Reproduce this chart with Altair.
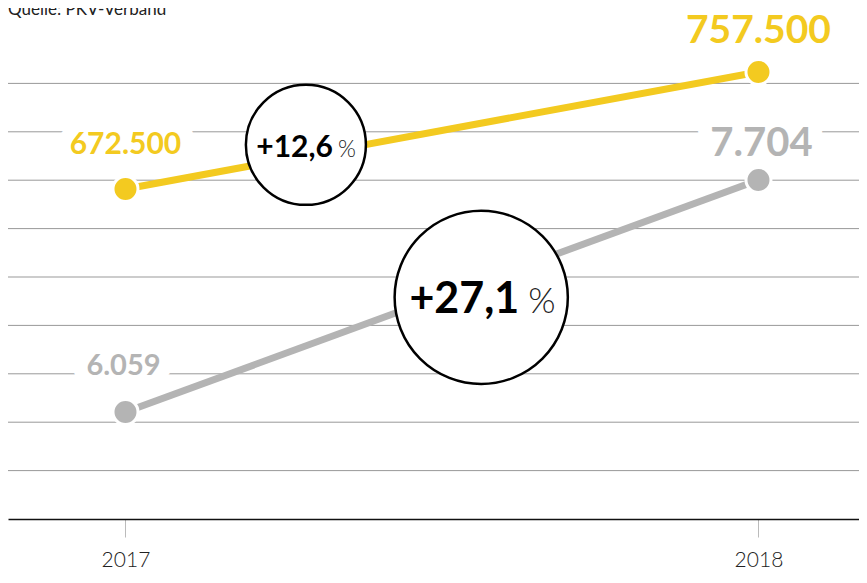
import altair as alt
import pandas as pd

# ---- data -------------------------------------------------------------
years = [2017, 2018]
yellow_values = [672500, 757500]
gray_values = [6059, 7704]
grid_levels = [1, 2, 3, 4, 5, 6, 7, 8, 9]
source_text = "Quelle: PKV-Verband"

YELLOW = "#F3CA20"
GRAY = "#B4B4B4"
FONT = "Lato"


def de_num(v):
    return f"{v:,}".replace(",", ".")


def pct(vals):
    p = (vals[1] / vals[0] - 1) * 100
    return "+" + f"{p:.1f}".replace(".", ",")


yellow_df = pd.DataFrame({"year": years, "value": yellow_values,
                          "label": [de_num(v) for v in yellow_values]})
gray_df = pd.DataFrame({"year": years, "value": gray_values,
                        "label": [de_num(v) for v in gray_values]})
grid_df = pd.DataFrame({"u": grid_levels})

# ---- scales -----------------------------------------------------------
x_scale = alt.Scale(domain=[2016.8144, 2018.1588], nice=False, zero=False)
y_yel = alt.Scale(domain=[432827, 784357], nice=False, zero=False)
y_gry = alt.Scale(domain=[5300.2, 8732.2], nice=False, zero=False)
y_grid = alt.Scale(domain=[0, 10], nice=False, zero=False)

x_axis = alt.Axis(values=years, format="d", title=None, grid=False,
                  domainColor="#111111", domainWidth=1.5,
                  tickColor="#bbbbbb", tickSize=18, tickWidth=1,
                  labelFont=FONT, labelFontSize=21, labelFontWeight=300,
                  labelColor="#222222", labelPadding=12)
xenc = alt.X("year:Q", scale=x_scale, axis=x_axis)

# ---- layers -----------------------------------------------------------
grid = alt.Chart(grid_df).mark_rule(color="#999999", strokeWidth=1).encode(
    y=alt.Y("u:Q", scale=y_grid, axis=None)
)


def label_layer(df, scale, color, year, size, dy, dx, halo):
    base = alt.Chart(df).transform_filter(alt.datum.year == year)
    props = dict(font=FONT, fontWeight="bold", fontSize=size, dy=dy, dx=dx,
                 align="center", baseline="alphabetic")
    if halo:
        m = base.mark_text(color="white", stroke="white", strokeWidth=28,
                           strokeJoin="round", **props)
    else:
        m = base.mark_text(color=color, **props)
    return m.encode(x=xenc, y=alt.Y("value:Q", scale=scale, axis=None),
                    text="label:N")


# (data, scale, colour, year, font size, dy, dx, needs white halo)
label_specs = [
    (yellow_df, y_yel, YELLOW, 2017, 30, -35, 0, True),
    (yellow_df, y_yel, YELLOW, 2018, 39, -29, 0, False),
    (gray_df, y_gry, GRAY, 2017, 29, -37, -2, True),
    (gray_df, y_gry, GRAY, 2018, 40, -24, 3, True),
]
halos = [label_layer(*s[:7], halo=True) for s in label_specs if s[7]]
labels = [label_layer(*s[:7], halo=False) for s in label_specs]


def series_layers(df, scale, color):
    line = alt.Chart(df).mark_line(color=color, strokeWidth=7).encode(
        x=xenc, y=alt.Y("value:Q", scale=scale, axis=None))
    pts = alt.Chart(df).mark_point(filled=True, fill=color, stroke="white",
                                   strokeWidth=3, size=625, opacity=1,
                                   shape="circle").encode(
        x=xenc, y=alt.Y("value:Q", scale=scale, axis=None))
    return [line, pts]


yel_layers = series_layers(yellow_df, y_yel, YELLOW)
gry_layers = series_layers(gray_df, y_gry, GRAY)


def bubble(cx, cy, size, text, big, small, dx_big, dx_small, dy):
    d = pd.DataFrame({"year": [cx], "u": [cy], "t": [text], "p": ["%"]})
    enc = dict(x=xenc, y=alt.Y("u:Q", scale=y_grid, axis=None))
    circ = alt.Chart(d).mark_point(shape="circle", filled=True, fill="white",
                                   stroke="black", strokeWidth=2.5,
                                   size=size, opacity=1).encode(**enc)
    t1 = alt.Chart(d).mark_text(font=FONT, fontWeight="bold", fontSize=big,
                                color="black", align="right",
                                baseline="alphabetic", dx=dx_big,
                                dy=dy).encode(text="t:N", **enc)
    t2 = alt.Chart(d).mark_text(font=FONT, fontWeight=300,
                                fontSize=small, color="#222222",
                                align="left", baseline="alphabetic",
                                dx=dx_small, dy=dy).encode(text="p:N", **enc)
    return [circ, t1, t2]


b1 = bubble(2017.285, 7.73, 14400, pct(yellow_values), 30, 23, 27, 32, 12)
b2 = bubble(2017.562, 4.58, 30000, pct(gray_values), 43, 35, 38, 47, 16)

title = alt.Chart(pd.DataFrame({"t": [source_text]})).mark_text(
    font=FONT, fontSize=17, color="#222222", align="left",
    baseline="alphabetic").encode(x=alt.value(0), y=alt.value(-20),
                                  text="t:N")

chart = alt.layer(
    grid, *halos, *yel_layers, *gry_layers, *labels, *b1, *b2, title
).resolve_scale(y="independent").properties(
    width=851, height=484,
    padding={"left": 0, "top": 27, "right": 0, "bottom": 53},
    autosize=alt.AutoSizeParams(type="none"),
).configure_view(stroke=None)

chart.save("out.html", embed_options={"renderer": "svg", "actions": False})
